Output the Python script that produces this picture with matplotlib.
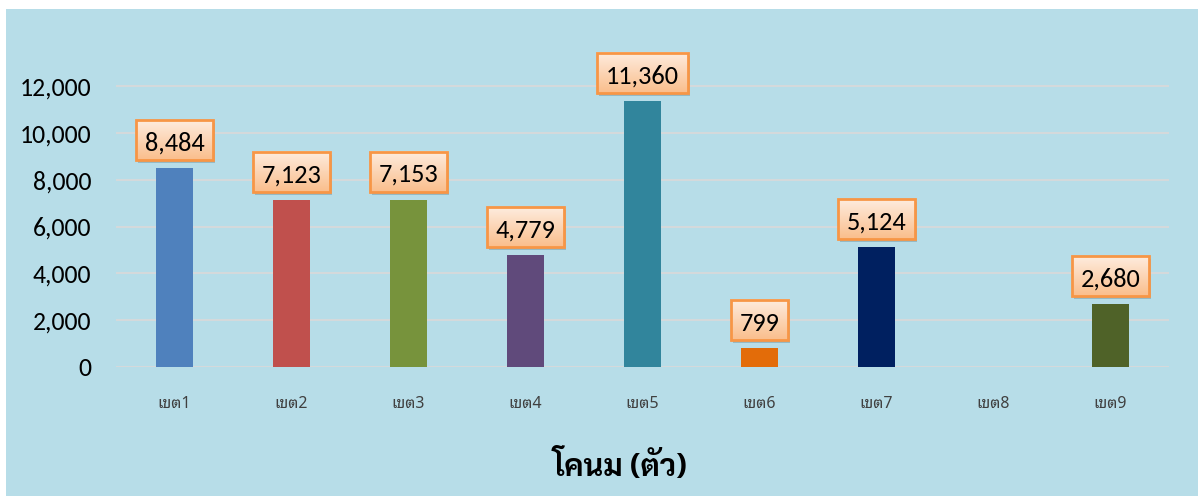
import numpy as np
import matplotlib
matplotlib.use("Agg")
import matplotlib.pyplot as plt
from matplotlib import font_manager
from matplotlib.patches import Rectangle
from matplotlib.ticker import FuncFormatter

# data
zones = ["เขต1", "เขต2", "เขต3", "เขต4", "เขต5", "เขต6", "เขต7", "เขต8", "เขต9"]
cows = [8484, 7123, 7153, 4779, 11360, 799, 5124, 0, 2680]
bar_colors = ["#4F81BD", "#C0504D", "#77933C", "#604A7B", "#31859C",
              "#E36C09", "#002060", "#7F7F7F", "#4F6228"]
title = "โคนม (ตัว)"

BG = "#B7DDE8"
GRID = "#D5D9DB"


def pick(names, fallback="DejaVu Sans"):
    have = {f.name for f in font_manager.fontManager.ttflist}
    for n in names:
        if n in have:
            return n
    return fallback


NUM = pick(["Carlito", "Lato", "Open Sans"])
THAI = pick(["Noto Sans Thai Looped", "Sarabun", "Noto Sans Thai", "Niramit"])
THAI_B = pick(["Sarabun", "IBM Plex Sans Thai Looped", "Noto Sans Thai"])

fig = plt.figure(figsize=(11.98, 4.96), dpi=100, facecolor="white")
fig.add_artist(Rectangle((6 / 1198, 0), 1, 487 / 496, transform=fig.transFigure,
                         facecolor=BG, edgecolor="none", zorder=0))
ax = fig.add_axes([116 / 1198, 129 / 496, 1053 / 1198, 304.4 / 496])
ax.set_facecolor("none")

x = np.arange(len(zones))
ax.bar(x, cows, width=0.32, color=bar_colors, zorder=2)

ax.set_xlim(-0.5, 8.5)
ax.set_ylim(0, 13000)
ax.set_yticks(np.arange(0, 12001, 2000))
ax.yaxis.set_major_formatter(FuncFormatter(lambda v, p: f"{int(v):,}"))
ax.grid(axis="y", color=GRID, lw=1.4, zorder=1)
ax.set_axisbelow(True)
for s in ax.spines.values():
    s.set_visible(False)
ax.tick_params(length=0)
ax.tick_params(axis="y", pad=18, labelsize=18.5, labelcolor="black")
ax.set_xticks(x)
ax.set_xticklabels(zones, family=[THAI, "DejaVu Sans"], fontsize=11.5, color="#404040")
ax.tick_params(axis="x", pad=21)
for t in ax.get_yticklabels():
    t.set_family([NUM, "DejaVu Sans"])

fig.text(620 / 1198, 1 - 466 / 496, title, family=[THAI_B, THAI, "DejaVu Sans"],
         fontsize=22, fontweight="bold", ha="center", va="center")

# value labels with gradient boxes
fig.canvas.draw()
renderer = fig.canvas.get_renderer()
inv = ax.transData.inverted()
grad = np.linspace(0, 1, 64)[:, None]
c_top = np.array([254, 236, 222]) / 255
c_bot = np.array([250, 190, 140]) / 255
for xi, v in zip(x, cows):
    if v <= 0:
        continue
    px, py = ax.transData.transform((xi, v))
    cy = py + 8 + 20
    t = ax.text(xi, v, f"{v:,}", family=[NUM, "DejaVu Sans"], fontsize=19,
                ha="center", va="center_baseline", zorder=6)
    t.set_position(inv.transform((px, cy - 1)))
    bb = t.get_window_extent(renderer)
    w = bb.width + 18
    x0, x1 = px - w / 2, px + w / 2
    y0, y1 = cy - 20, cy + 20
    # shadow
    sx0, sy0 = inv.transform((x0 + 2, y0 - 3))
    sx1, sy1 = inv.transform((x1 + 2, y1 - 3))
    ax.add_patch(Rectangle((sx0, sy0), sx1 - sx0, sy1 - sy0, facecolor="#6F8E97",
                           alpha=0.45, edgecolor="none", zorder=3, clip_on=False))
    dx0, dy0 = inv.transform((x0, y0))
    dx1, dy1 = inv.transform((x1, y1))
    img = c_top[None, None, :] * (1 - grad[:, :, None]) + c_bot[None, None, :] * grad[:, :, None]
    ax.imshow(img, extent=(dx0, dx1, dy0, dy1), origin="upper", aspect="auto",
              zorder=4, clip_on=False, interpolation="bilinear")
    ax.add_patch(Rectangle((dx0, dy0), dx1 - dx0, dy1 - dy0, facecolor="none",
                           edgecolor="#F79646", lw=2, zorder=5, clip_on=False))

ax.set_xlim(-0.5, 8.5)
ax.set_ylim(0, 13000)
fig.savefig("out.png", dpi=100, facecolor="white")
